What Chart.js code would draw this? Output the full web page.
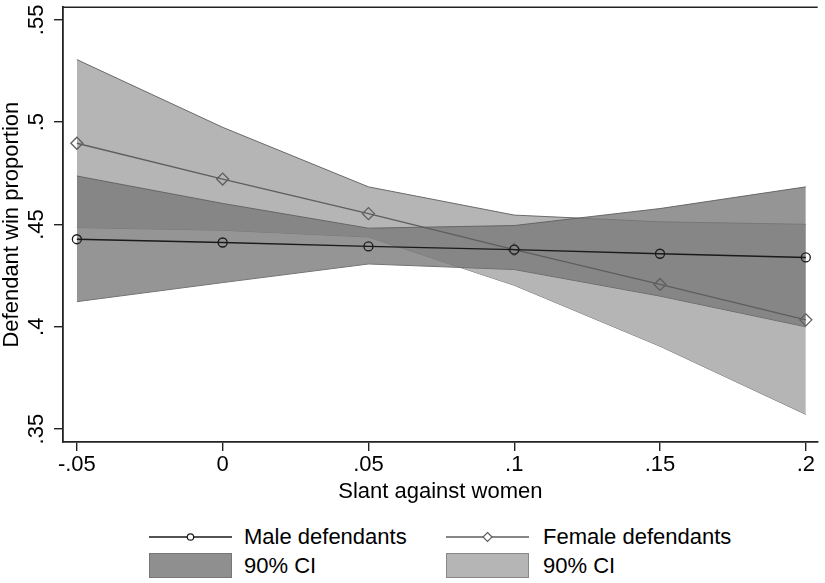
<!DOCTYPE html>
<html>
<head>
<meta charset="utf-8">
<script src="https://cdn.jsdelivr.net/npm/chart.js@4.4.1/dist/chart.umd.min.js"></script>
<style>
  body { margin: 0; background: #fff; }
  #wrap { position: relative; width: 825px; height: 583px; overflow: hidden; }
  #chart-box { position: absolute; left: 0; top: 0; width: 825px; height: 510px; }
  .leg { position: absolute; font-family: 'Liberation Sans', Arial, sans-serif; font-size: 22px; color: #000; line-height: 30px; white-space: nowrap; }
  .key { position: absolute; }
</style>
</head>
<body>
<div id="wrap">
  <div id="chart-box"><canvas id="slant-chart"></canvas></div>

  <svg class="key" style="left:149px; top:525px" width="83" height="24">
    <line x1="0" y1="12" x2="83" y2="12" stroke="#1a1a1a" stroke-width="1.3"/>
    <circle cx="41.5" cy="12" r="3.2" fill="#fff" stroke="#1a1a1a" stroke-width="1.2"/>
  </svg>
  <div class="leg" style="left:244px; top:522px">Male defendants</div>

  <svg class="key" style="left:446px; top:525px" width="83" height="24">
    <line x1="0" y1="12" x2="83" y2="12" stroke="#5e5e5e" stroke-width="1.3"/>
    <path d="M41.5 7.5 L46 12 L41.5 16.5 L37 12 Z" fill="#fff" stroke="#5e5e5e" stroke-width="1.2"/>
  </svg>
  <div class="leg" style="left:543px; top:522px">Female defendants</div>

  <svg class="key" style="left:149px; top:553px" width="83" height="25">
    <rect x="0.5" y="0.5" width="82" height="24" fill="rgb(143,143,143)" stroke="#777" stroke-width="1"/>
  </svg>
  <div class="leg" style="left:244px; top:551px">90% CI</div>

  <svg class="key" style="left:446px; top:553px" width="83" height="25">
    <rect x="0.5" y="0.5" width="82" height="24" fill="#b5b5b5" stroke="#888" stroke-width="1"/>
  </svg>
  <div class="leg" style="left:543px; top:551px">90% CI</div>
</div>

<script>
const xValues = [-0.05, 0, 0.05, 0.1, 0.15, 0.2];
const maleEstimate = [0.4428, 0.4412, 0.4393, 0.4377, 0.4357, 0.4339];
const maleUpper = [0.4737, 0.4603, 0.4482, 0.4495, 0.4578, 0.4684];
const maleLower = [0.4123, 0.4216, 0.4307, 0.4280, 0.4150, 0.4000];
const femaleEstimate = [0.4897, 0.4722, 0.4553, 0.4377, 0.4207, 0.4034];
const femaleUpper = [0.5306, 0.4975, 0.4684, 0.4546, 0.4513, 0.4501];
const femaleLower = [0.4485, 0.4472, 0.4439, 0.4203, 0.3905, 0.3572];

const xTickValues = [-0.05, 0, 0.05, 0.1, 0.15, 0.2];
const xTickLabels = ['-.05', '0', '.05', '.1', '.15', '.2'];
const yTickValues = [0.35, 0.4, 0.45, 0.5, 0.55];
const yTickLabels = ['.35', '.4', '.45', '.5', '.55'];

Chart.defaults.font.family = "'Liberation Sans', Arial, sans-serif";
Chart.defaults.color = '#000';

function points(arr) {
    return xValues.map((x, i) => ({ x: x, y: arr[i] }));
}

function labelFor(values, labels, value) {
    const i = values.findIndex(v => Math.abs(v - value) < 1e-9);
    return i >= 0 ? labels[i] : '';
}

// top frame line of the plot region
const frameTop = {
    id: 'frameTop',
    afterDraw(chart) {
        const { ctx, chartArea } = chart;
        ctx.save();
        ctx.strokeStyle = '#222';
        ctx.lineWidth = 1.6;
        ctx.beginPath();
        ctx.moveTo(chartArea.left, chartArea.top);
        ctx.lineTo(chartArea.right, chartArea.top);
        ctx.stroke();
        ctx.restore();
    }
};

const ciBorder = 'rgba(95,95,95,0.9)';

new Chart(document.getElementById('slant-chart'), {
    type: 'line',
    data: {
        datasets: [
            { label: 'femaleLower', data: points(femaleLower), borderColor: ciBorder, borderWidth: 1, pointRadius: 0, fill: false, order: 60 },
            { label: 'femaleUpper', data: points(femaleUpper), borderColor: ciBorder, borderWidth: 1, pointRadius: 0, fill: '-1', backgroundColor: '#b5b5b5', order: 50 },
            { label: 'maleLower', data: points(maleLower), borderColor: ciBorder, borderWidth: 1, pointRadius: 0, fill: false, order: 40 },
            { label: 'maleUpper', data: points(maleUpper), borderColor: ciBorder, borderWidth: 1, pointRadius: 0, fill: '-1', backgroundColor: 'rgba(123,123,123,0.8)', order: 30 },
            { label: 'Female defendants', data: points(femaleEstimate), borderColor: '#5e5e5e', borderWidth: 1.4,
              pointStyle: 'rectRot', pointRadius: 6, pointBorderWidth: 1.3, pointBorderColor: '#5e5e5e',
              pointBackgroundColor: 'rgba(0,0,0,0)', fill: false, order: 20 },
            { label: 'Male defendants', data: points(maleEstimate), borderColor: '#1a1a1a', borderWidth: 1.4,
              pointStyle: 'circle', pointRadius: 4.5, pointBorderWidth: 1.3, pointBorderColor: '#1a1a1a',
              pointBackgroundColor: 'rgba(0,0,0,0)', fill: false, order: 10 }
        ]
    },
    options: {
        responsive: true,
        maintainAspectRatio: false,
        animation: false,
        layout: { padding: { top: 4, right: 0, bottom: 0, left: 0 } },
        plugins: { legend: { display: false }, tooltip: { enabled: false } },
        elements: { line: { tension: 0 } },
        scales: {
            x: {
                type: 'linear',
                min: -0.05476,
                max: 0.20408,
                afterBuildTicks: scale => { scale.ticks = xTickValues.map(v => ({ value: v })); },
                afterFit: scale => { scale.height = 68; scale.paddingLeft = 0; scale.paddingRight = 0; },
                ticks: {
                    padding: 1,
                    maxRotation: 0,
                    autoSkip: false,
                    font: { size: 22 },
                    callback: value => labelFor(xTickValues, xTickLabels, value)
                },
                grid: { drawOnChartArea: false, tickLength: 9, color: '#222', lineWidth: 1.4 },
                border: { display: true, color: '#222', width: 1.8 },
                title: { display: true, text: 'Slant against women', font: { size: 22 }, padding: { top: 0, bottom: 5 } }
            },
            y: {
                min: 0.34369,
                max: 0.55616,
                afterBuildTicks: scale => { scale.ticks = yTickValues.map(v => ({ value: v })); },
                afterFit: scale => { scale.width = 63; scale.paddingTop = 0; scale.paddingBottom = 0; },
                ticks: {
                    padding: 1.3,
                    minRotation: 90,
                    maxRotation: 90,
                    crossAlign: 'center',
                    autoSkip: false,
                    font: { size: 22 },
                    callback: value => labelFor(yTickValues, yTickLabels, value)
                },
                grid: { drawOnChartArea: false, tickLength: 9, color: '#222', lineWidth: 1.4 },
                border: { display: true, color: '#222', width: 1.8 },
                title: { display: true, text: 'Defendant win proportion', font: { size: 22, lineHeight: 1 }, padding: { top: 1.4, bottom: 0 } }
            }
        }
    },
    plugins: [frameTop]
});
</script>
</body>
</html>
